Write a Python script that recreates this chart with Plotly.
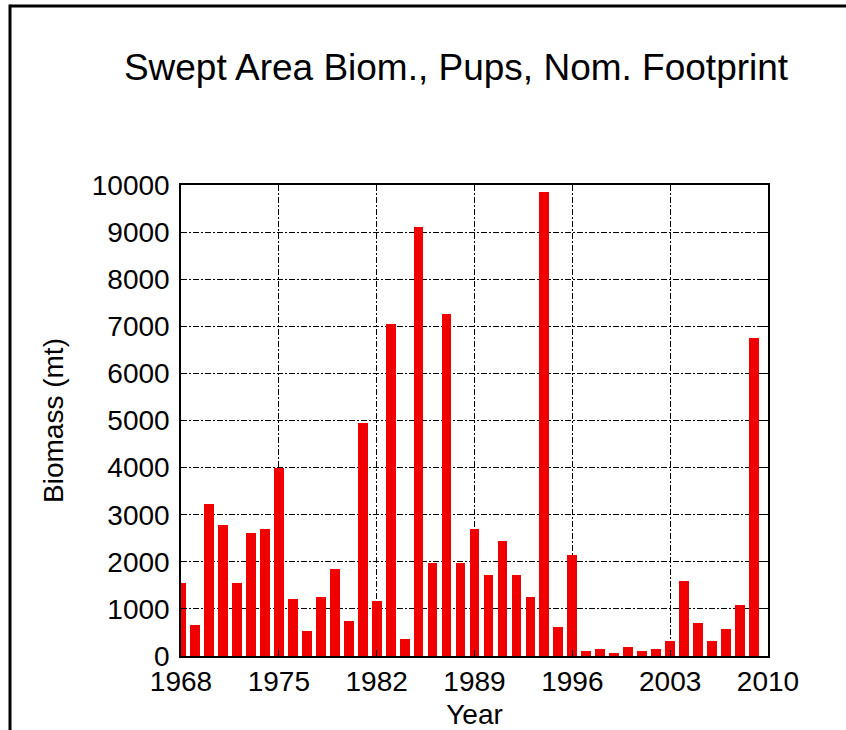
import plotly.graph_objects as go

years = list(range(1968, 2010))
biomass = [1560, 665, 3220, 2790, 1560, 2620, 2700, 4000, 1220, 540,
           1260, 1850, 750, 4950, 1175, 7040, 370, 9115, 1980, 7255,
           1980, 2700, 1725, 2450, 1725, 1260, 9845, 620, 2150, 115,
           155, 70, 200, 115, 155, 325, 1600, 710, 325, 580,
           1090, 6745]
x_ticks = [1968, 1975, 1982, 1989, 1996, 2003, 2010]
y_ticks = list(range(0, 10001, 1000))

W, H = 846, 730
L, R, T, B = 181, 768, 185, 656

FONT = "Liberation Sans, Arial, sans-serif"

fig = go.Figure(go.Bar(x=years, y=biomass, width=0.7,
                       marker=dict(color="#f00000", line=dict(width=0))))

def px2x(p):
    return (p - L) / (R - L)

def px2y(p):
    return (B - p) / (B - T)

axis_common = dict(
    showline=True, linecolor="black", linewidth=1.5, mirror="allticks",
    ticks="inside", ticklen=6, tickcolor="black", tickwidth=1.2,
    showgrid=True, gridcolor="black", gridwidth=1, griddash="6px,2px,2px,2px",
    zeroline=False, automargin=False,
    tickfont=dict(family=FONT, size=28, color="black"),
)

fig.update_xaxes(range=[1968, 2010], tickvals=x_ticks, ticktext=[str(v) for v in x_ticks],
                 title=dict(text="Year", font=dict(family=FONT, size=28, color="black"), standoff=16),
                 **axis_common)
fig.update_yaxes(range=[0, 10000], tickvals=y_ticks, ticktext=[str(v) for v in y_ticks],
                 ticklabelstandoff=4,
                 title=dict(text="Biomass (mt)", font=dict(family=FONT, size=28, color="black"), standoff=20),
                 **axis_common)

fig.update_layout(
    width=W, height=H,
    margin=dict(l=L, r=W - R, t=T, b=H - B, pad=0, autoexpand=False),
    paper_bgcolor="white", plot_bgcolor="white",
    showlegend=False,
    bargap=0,
    title=dict(text="Swept Area Biom., Pups, Nom. Footprint",
               font=dict(family=FONT, size=37, color="black"),
               x=456 / W, xanchor="center", xref="container",
               y=1 - 67 / H, yanchor="middle"),
    shapes=[
        dict(type="line", xref="paper", yref="paper",
             x0=px2x(10), x1=px2x(10), y0=px2y(4.5), y1=px2y(H + 5),
             line=dict(color="black", width=3)),
        dict(type="line", xref="paper", yref="paper",
             x0=px2x(10), x1=px2x(W + 5), y0=px2y(6), y1=px2y(6),
             line=dict(color="black", width=3)),
    ],
)

fig.write_html("out.html", config={"displayModeBar": False},
               post_script="document.body.style.margin='0';document.body.style.overflow='hidden';")
